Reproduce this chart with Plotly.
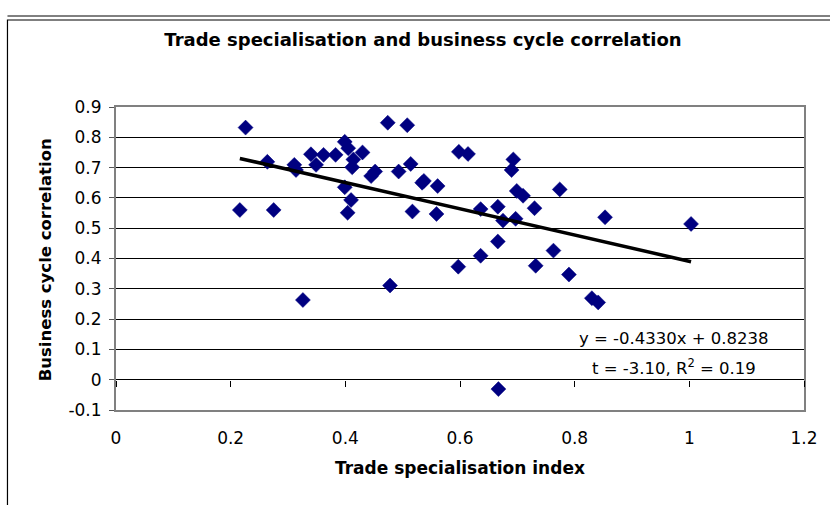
import plotly.graph_objects as go

# ---- data ----
trade_index = [0.226, 0.264, 0.216, 0.275, 0.311, 0.314, 0.340, 0.349, 0.362, 0.383,
               0.399, 0.405, 0.430, 0.414, 0.412, 0.399, 0.410, 0.404, 0.445, 0.452,
               0.326, 0.474, 0.508, 0.493, 0.514, 0.534, 0.537, 0.561, 0.517, 0.559,
               0.598, 0.614, 0.636, 0.666, 0.675, 0.697, 0.693, 0.690, 0.699, 0.710,
               0.730, 0.774, 0.666, 0.478, 0.597, 0.636, 0.732, 0.763, 0.667, 0.853,
               1.003, 0.790, 0.830, 0.841]
bc_corr = [0.832, 0.719, 0.560, 0.560, 0.709, 0.692, 0.744, 0.709, 0.742, 0.742,
           0.785, 0.764, 0.750, 0.727, 0.701, 0.635, 0.593, 0.551, 0.672, 0.687,
           0.263, 0.848, 0.840, 0.687, 0.712, 0.650, 0.656, 0.639, 0.555, 0.547,
           0.752, 0.745, 0.563, 0.571, 0.525, 0.531, 0.727, 0.692, 0.623, 0.607,
           0.566, 0.628, 0.456, 0.311, 0.373, 0.409, 0.376, 0.426, -0.031, 0.536,
           0.514, 0.347, 0.269, 0.255]

slope = -0.4330
intercept = 0.8238
t_stat = -3.10
r_squared = 0.19

x_ticks = [0, 0.2, 0.4, 0.6, 0.8, 1.0, 1.2]
x_tick_labels = ["0", "0.2", "0.4", "0.6", "0.8", "1", "1.2"]
y_ticks = [0.9, 0.8, 0.7, 0.6, 0.5, 0.4, 0.3, 0.2, 0.1, 0.0, -0.1]
y_tick_labels = ["0.9", "0.8", "0.7", "0.6", "0.5", "0.4", "0.3", "0.2", "0.1", "0", "-0.1"]

chart_title = "Trade specialisation and business cycle correlation"
x_title = "Trade specialisation index"
y_title = "Business cycle correlation"

# ---- layout geometry (pixels) ----
W, H = 830, 505
ML, MR, MT, MB = 116, 23, 107, 95
PW, PH = W - ML - MR, H - MT - MB

def px(xp):
    return (xp - ML) / PW

def py(yp):
    return (H - MB - yp) / PH

FONT = "DejaVu Sans, Liberation Sans, Arial, sans-serif"

fit_x = [min(trade_index), max(trade_index)]
fit_y = [intercept + slope * v for v in fit_x]

fig = go.Figure()
fig.add_trace(go.Scatter(
    x=trade_index, y=bc_corr, mode="markers",
    marker=dict(symbol="diamond", size=11.5, color="#000080",
                line=dict(color="#000080", width=0.5)),
    showlegend=False, hoverinfo="x+y"))
fig.add_trace(go.Scatter(
    x=fit_x, y=fit_y, mode="lines", xaxis="x2",
    line=dict(color="black", width=3.5), showlegend=False))

fig.update_layout(
    width=W, height=H,
    margin=dict(l=ML, r=MR, t=MT, b=MB),
    paper_bgcolor="white", plot_bgcolor="white",
    font=dict(family=FONT, size=16, color="black"),
    title=dict(text="<b>" + chart_title + "</b>", x=423 / W, xanchor="center",
               y=1 - 40 / H, yanchor="middle", yref="container",
               font=dict(family=FONT, size=18, color="black")),
    xaxis=dict(range=[0, 1.2], tickvals=x_ticks, ticktext=x_tick_labels,
               showgrid=False, zeroline=False, ticks="",
               showline=True, linecolor="#808080", linewidth=2, mirror=True,
               ticklabelstandoff=12, tickfont=dict(size=17)),
    xaxis2=dict(range=[0, 1.2], overlaying="x", anchor="free", position=0.1,
                tickvals=x_ticks, showticklabels=False, ticks="outside",
                ticklen=6, tickcolor="black", tickwidth=1,
                showgrid=False, zeroline=False, showline=False),
    yaxis=dict(range=[-0.1, 0.9], tickvals=y_ticks, ticktext=y_tick_labels,
               domain=[0, 1],
               showgrid=True, gridcolor="black", gridwidth=1,
               zeroline=True, zerolinecolor="black", zerolinewidth=1,
               ticks="outside", ticklen=5, tickcolor="#555555",
               showline=True, linecolor="#808080", linewidth=2, mirror=True,
               ticklabelstandoff=4, tickfont=dict(size=17)),
)

annotations = [
    dict(text="<b>" + x_title + "</b>", x=px(461), y=py(468), xref="paper", yref="paper",
         showarrow=False, font=dict(size=17), xanchor="center", yanchor="middle"),
    dict(text="<b>" + y_title + "</b>", x=px(45), y=py(260), xref="paper", yref="paper",
         showarrow=False, font=dict(size=16.5), textangle=-90,
         xanchor="center", yanchor="middle"),
    dict(text="y = %.4fx + %.4f" % (slope, intercept), x=px(676), y=py(338),
         xref="paper", yref="paper", showarrow=False, font=dict(size=16.5),
         xanchor="center", yanchor="middle"),
    dict(text="t = %.2f, R<sup>2</sup> = %.2f" % (t_stat, r_squared), x=px(676), y=py(367),
         xref="paper", yref="paper", showarrow=False, font=dict(size=16.5),
         xanchor="center", yanchor="middle"),
]
fig.update_layout(annotations=annotations)

shapes = [
    dict(type="line", xref="paper", yref="paper", x0=px(7), x1=px(840),
         y0=py(16), y1=py(16), line=dict(color="#808080", width=2)),
    dict(type="rect", xref="paper", yref="paper", x0=px(7), x1=px(840),
         y0=py(20), y1=py(520), line=dict(color="black", width=1.2)),
]
fig.update_layout(shapes=shapes)

fig.write_html("out.html", config={"displayModeBar": False},
               post_script="document.body.style.margin='0';")
